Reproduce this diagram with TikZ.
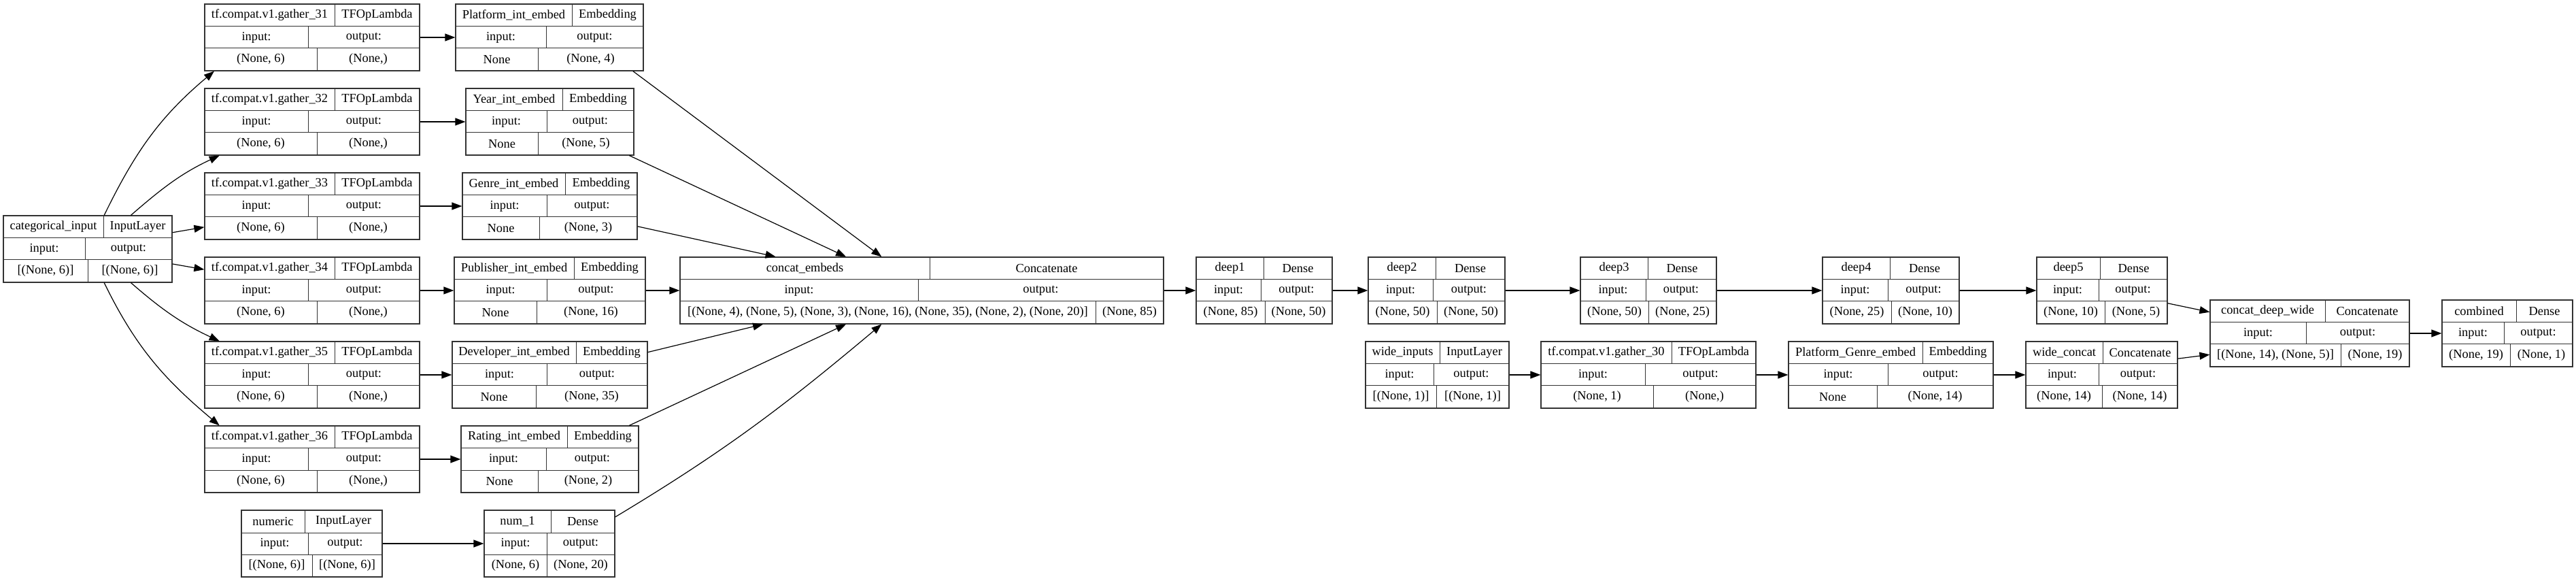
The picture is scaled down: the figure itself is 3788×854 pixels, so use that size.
\documentclass[tikz,border=0pt]{standalone}
\usepackage{fontspec}
\setmainfont{Liberation Serif}
\usetikzlibrary{arrows.meta}
\usetikzlibrary{fit}
\tikzset{layerbox/.style={ % Outer frame of one layer table
draw=black!80,
line width=0.6pt,
inner sep=0pt},
cellline/.style={draw=black!80, line width=0.5pt}, % Inner rules of a table
celltext/.style={font=\fontsize{9.2}{10}\selectfont, inner sep=0pt},
every edge/.style={ % Sets the properties for each connection
draw,
-{Triangle[length=7.5pt,width=5.5pt]},
line width=0.6pt}}

\begin{document}
\begin{tikzpicture}[x=0.5pt,y=-0.5pt]
  \useasboundingbox (0,0) rectangle (3788,854);
  % name/left/top/right/header split/middle split/bottom split/label/type/in/out
  \foreach \n/\xl/\yt/\xr/\sa/\sb/\sc/\lab/\typ/\shin/\shout in {
    cat/5/317/253/152/125/129/{categorical\_input}/InputLayer/{[(None, 6)]}/{[(None, 6)]},
    g31/301/6/617/492/453/466/{tf.compat.v1.gather\_31}/TFOpLambda/{(None, 6)}/{(None,)},
    g32/301/130/617/492/453/466/{tf.compat.v1.gather\_32}/TFOpLambda/{(None, 6)}/{(None,)},
    g33/301/254/617/492/453/466/{tf.compat.v1.gather\_33}/TFOpLambda/{(None, 6)}/{(None,)},
    g34/301/378/617/492/453/466/{tf.compat.v1.gather\_34}/TFOpLambda/{(None, 6)}/{(None,)},
    g35/301/502/617/492/453/466/{tf.compat.v1.gather\_35}/TFOpLambda/{(None, 6)}/{(None,)},
    g36/301/626/617/492/453/466/{tf.compat.v1.gather\_36}/TFOpLambda/{(None, 6)}/{(None,)},
    plat/670/6/946/841/803/791/{Platform\_int\_embed}/Embedding/None/{(None, 4)},
    year/685/130/932/827/804/791/{Year\_int\_embed}/Embedding/None/{(None, 5)},
    genre/680/254/937/831/804/793/{Genre\_int\_embed}/Embedding/None/{(None, 3)},
    pub/668/378/949/844/804/789/{Publisher\_int\_embed}/Embedding/None/{(None, 16)},
    dev/665/502/952/847/804/788/{Developer\_int\_embed}/Embedding/None/{(None, 35)},
    rat/678/626/939/834/803/791/{Rating\_int\_embed}/Embedding/None/{(None, 2)},
    numeric/355/750/562/448/453/459/numeric/InputLayer/{[(None, 6)]}/{[(None, 6)]},
    num1/712/750/904/810/804/804/{num\_1}/Dense/{(None, 6)}/{(None, 20)},
    concat/1000/378/1711/1367/1350/1611/{concat\_embeds}/Concatenate/{[(None, 4), (None, 5), (None, 3), (None, 16), (None, 35), (None, 2), (None, 20)]}/{(None, 85)},
    deep1/1759/378/1959/1858/1854/1860/deep1/Dense/{(None, 85)}/{(None, 50)},
    deep2/2012/378/2213/2111/2107/2113/deep2/Dense/{(None, 50)}/{(None, 50)},
    deep3/2324/378/2524/2423/2420/2424/deep3/Dense/{(None, 50)}/{(None, 25)},
    deep4/2680/378/2881/2779/2776/2781/deep4/Dense/{(None, 25)}/{(None, 10)},
    deep5/2995/378/3187/3088/3086/3095/deep5/Dense/{(None, 10)}/{(None, 5)},
    wide/2008/502/2219/2117/2108/2112/{wide\_inputs}/InputLayer/{[(None, 1)]}/{[(None, 1)]},
    g30/2266/502/2582/2458/2419/2431/{tf.compat.v1.gather\_30}/TFOpLambda/{(None, 1)}/{(None,)},
    pge/2630/502/2931/2827/2776/2760/{Platform\_Genre\_embed}/Embedding/None/{(None, 14)},
    wcat/2979/502/3202/3092/3086/3091/{wide\_concat}/Concatenate/{(None, 14)}/{(None, 14)},
    cdw/3250/441/3543/3419/3391/3442/{concat\_deep\_wide}/Concatenate/{[(None, 14), (None, 5)]}/{(None, 19)},
    comb/3591/441/3783/3700/3682/3691/combined/Dense/{(None, 19)}/{(None, 1)}
  }{
    \node[layerbox, fit={(\xl,\yt) (\xr,\yt+98)}] (\n) {};
    \draw[cellline] (\xl,\yt+33) -- (\xr,\yt+33) (\xl,\yt+65) -- (\xr,\yt+65)
                    (\sa,\yt) -- (\sa,\yt+33) (\sb,\yt+33) -- (\sb,\yt+65)
                    (\sc,\yt+65) -- (\sc,\yt+98);
    \node[celltext] at ({(\xl+\sa)/2},\yt+16.5) {\lab};
    \node[celltext] at ({(\sa+\xr)/2},\yt+16.5) {\typ};
    \node[celltext] at ({(\xl+\sb)/2},\yt+49) {input:};
    \node[celltext] at ({(\sb+\xr)/2},\yt+49) {output:};
    \node[celltext] at ({(\xl+\sc)/2},\yt+81.5) {\shin};
    \node[celltext] at ({(\sc+\xr)/2},\yt+81.5) {\shout};
  }
  \path (cat.64)  edge [out=64,in=220]  (g31.199)
        (cat.38)  edge [out=41,in=205]  (g32.200)
        (cat.11)  edge                  (g33.191)
        (cat.350) edge                  (g34.169)
        (cat.322) edge [out=-41,in=155] (g35.160)
        (cat.296) edge [out=-64,in=140] (g36.160)
        (g31) edge (plat)
        (g32) edge (year)
        (g33) edge (genre)
        (g34) edge (pub)
        (g35) edge (dev)
        (g36) edge (rat)
        (numeric) edge (num1)
        (plat.338)  edge (concat.140)
        (year.337)  edge (concat.156)
        (genre.347) edge (concat.167.5)
        (pub)       edge (concat)
        (dev.13)    edge (concat.192.5)
        (rat.23.6)  edge (concat.204.3)
        (num1.22)   edge [out=31,in=220] (concat.220)
        (concat) edge (deep1)
        (deep1) edge (deep2)
        (deep2) edge (deep3)
        (deep3) edge (deep4)
        (deep4) edge (deep5)
        (wide) edge (g30)
        (g30) edge (pge)
        (pge) edge (wcat)
        (deep5.349) edge (cdw.168)
        (wcat.12)   edge (cdw.192)
        (cdw) edge (comb);
\end{tikzpicture}
\end{document}
